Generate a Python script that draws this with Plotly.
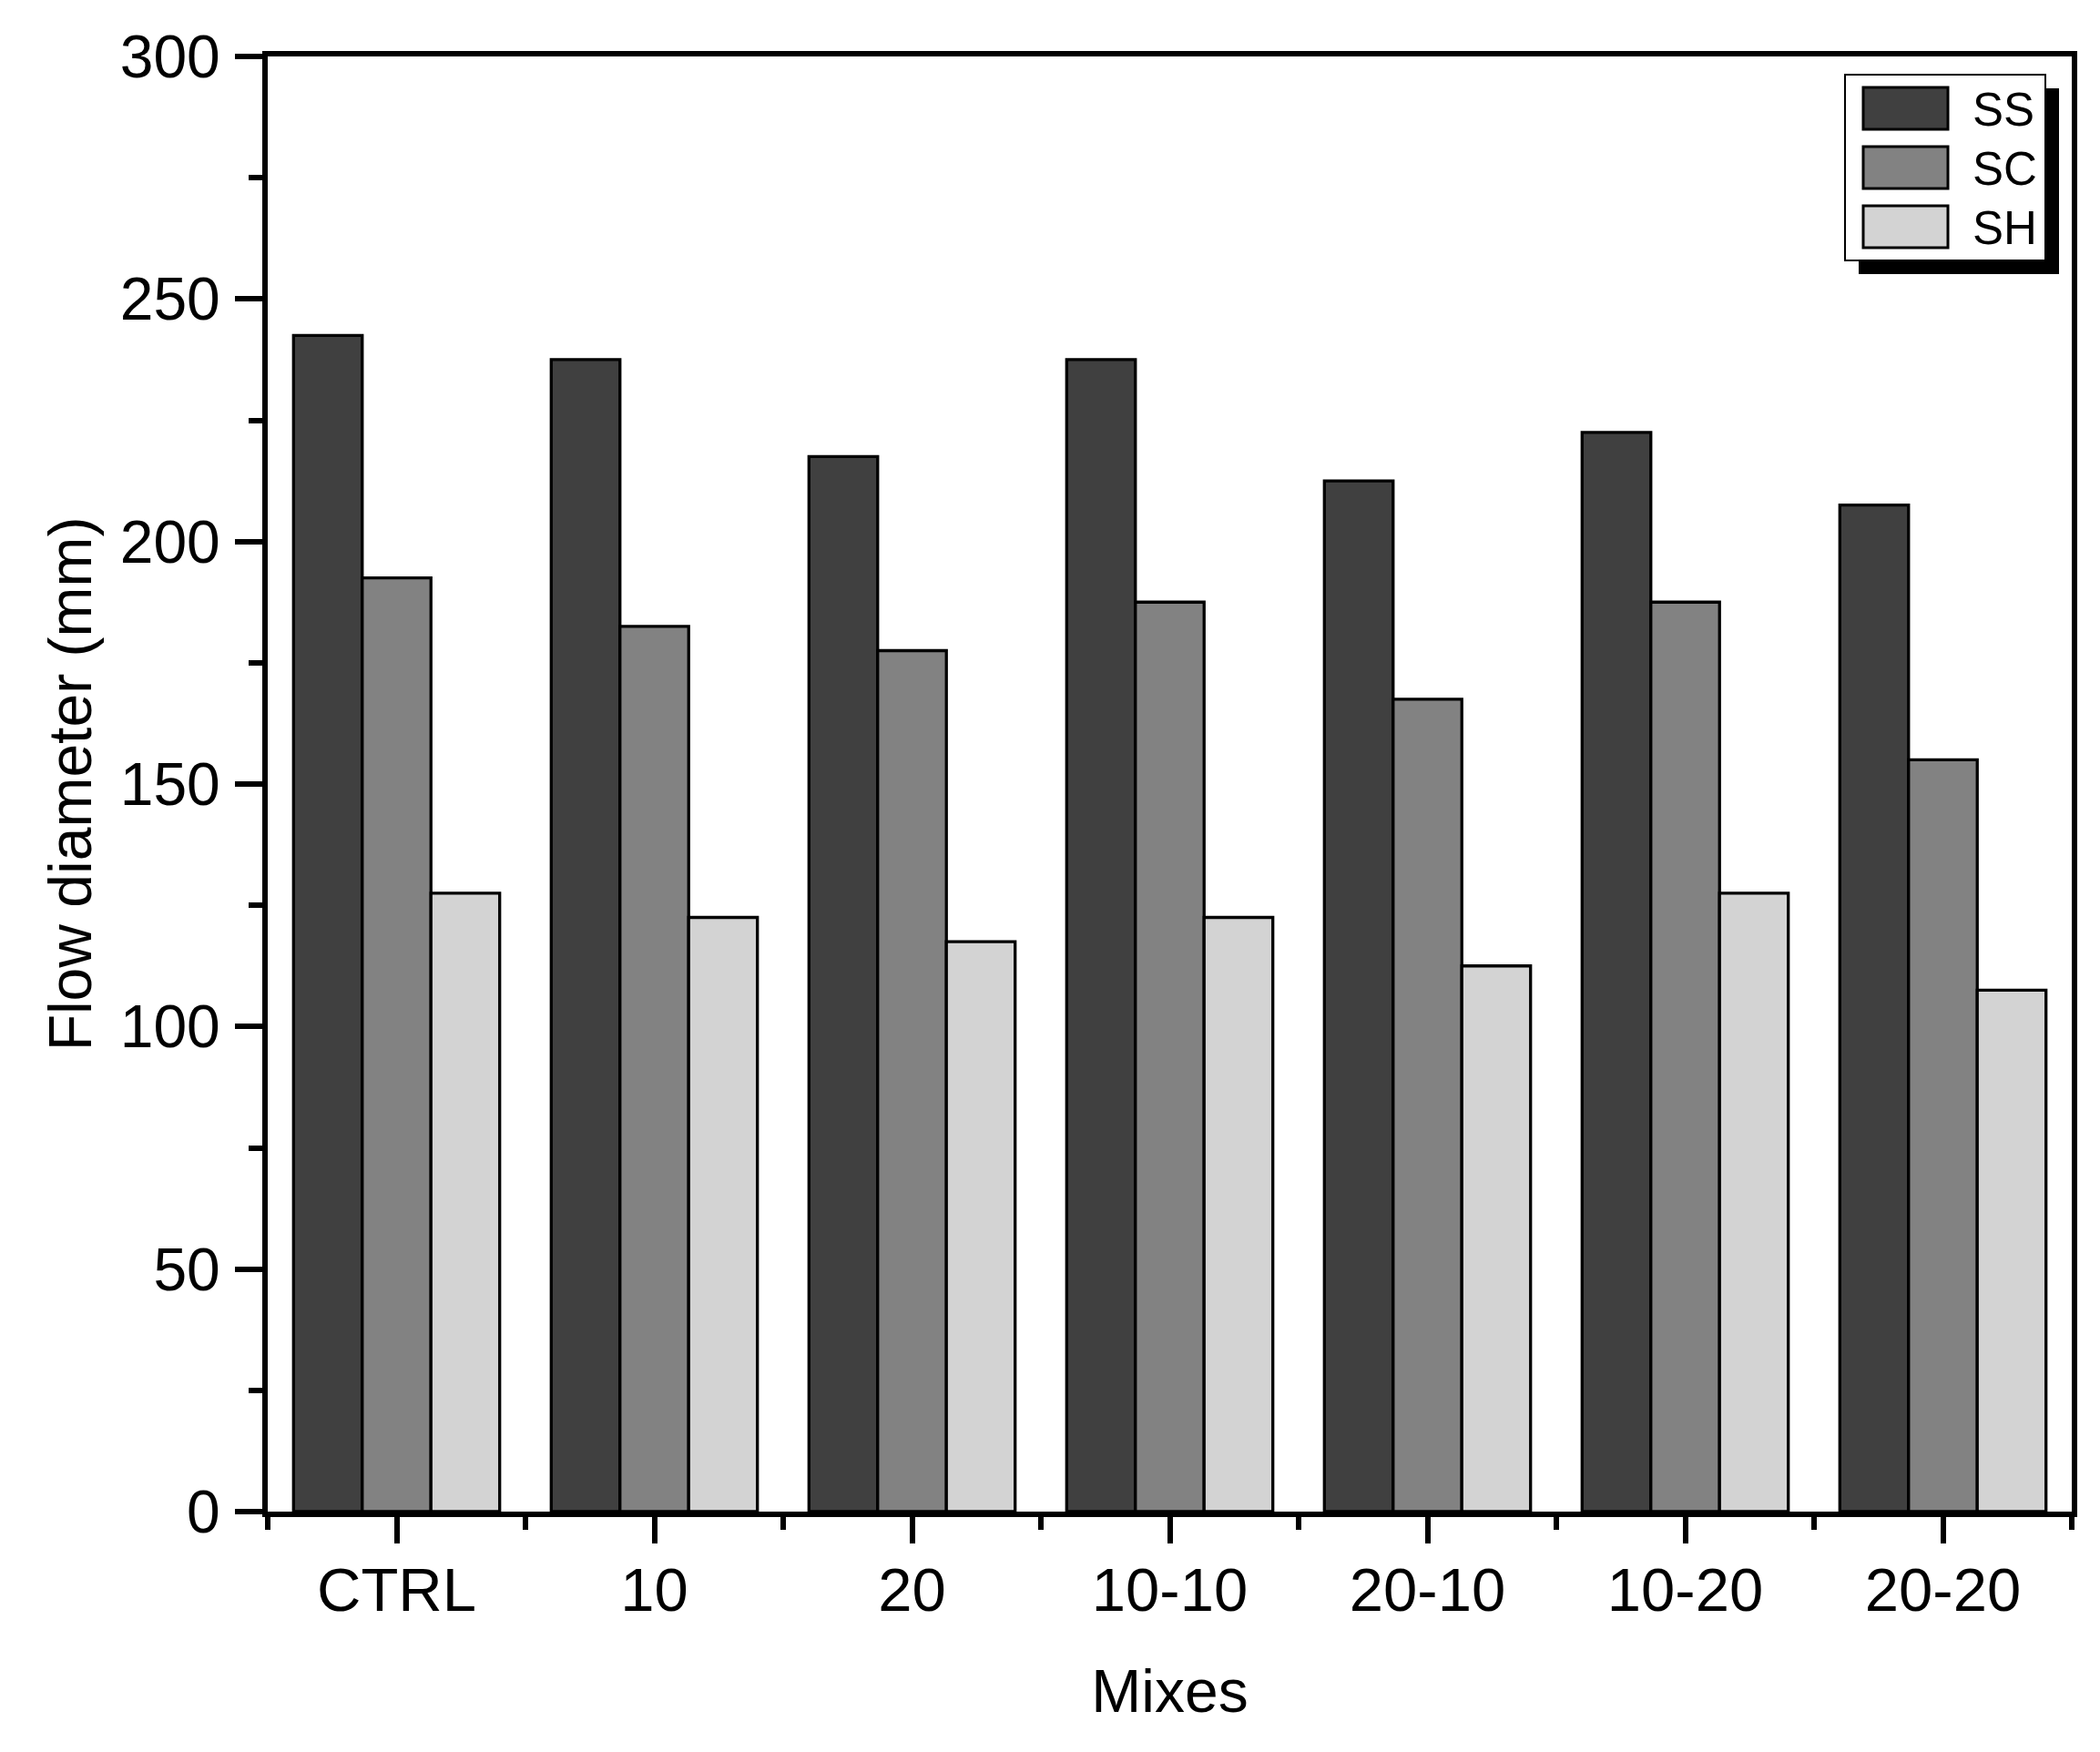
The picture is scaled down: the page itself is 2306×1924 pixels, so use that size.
import plotly.graph_objects as go

mixes = ["CTRL", "10", "20", "10-10", "20-10", "10-20", "20-20"]
series_names = ["SS", "SC", "SH"]
ss_values = [242.5, 237.5, 217.5, 237.5, 212.5, 222.5, 207.5]
sc_values = [192.5, 182.5, 177.5, 187.5, 167.5, 187.5, 155.0]
sh_values = [127.5, 122.5, 117.5, 122.5, 112.5, 127.5, 107.5]
colors = ["#404040", "#828282", "#d3d3d3"]
y_ticks = [0, 50, 100, 150, 200, 250, 300]

FONT = "Liberation Sans, Arial, sans-serif"
W, H = 2306, 1924
OFF = 8  # page body margin
# desired plot area in page pixels
PL, PR, PT, PB = 294, 2275, 62, 1660
L, R, T, B = PL - OFF, W + OFF - PR, PT - OFF, H + OFF - PB

xpos = list(range(len(mixes)))
fig = go.Figure()
for name, vals, col in zip(series_names, [ss_values, sc_values, sh_values], colors):
    fig.add_trace(go.Bar(
        x=xpos, y=vals, name=name,
        marker=dict(color=col, line=dict(color="black", width=3.3)),
        showlegend=False,
    ))

fig.update_layout(
    width=W, height=H,
    margin=dict(l=L, r=R, t=T, b=B),
    paper_bgcolor="white", plot_bgcolor="white",
    barmode="group", bargap=0.2, bargroupgap=0,
    font=dict(family=FONT, size=66, color="black"),
)

fig.update_xaxes(
    range=[-0.5, len(mixes) - 0.5],
    tickmode="array", tickvals=xpos, ticktext=mixes,
    ticks="outside", ticklen=29, tickwidth=6, tickcolor="black",
    minor=dict(ticks="outside", tick0=-0.5, dtick=1, ticklen=14, tickwidth=6, tickcolor="black"),
    showline=True, linewidth=6, linecolor="black", mirror=True,
    showgrid=False, zeroline=False,
    tickfont=dict(size=67),
    ticklabelstandoff=-6,
    title=dict(text="Mixes", font=dict(size=66), standoff=53),
)
fig.update_yaxes(
    range=[0, 300],
    tickmode="array", tickvals=y_ticks,
    ticks="outside", ticklen=30, tickwidth=6, tickcolor="black",
    minor=dict(ticks="outside", dtick=25, tick0=0, ticklen=15, tickwidth=6, tickcolor="black"),
    showline=True, linewidth=6, linecolor="black", mirror=True,
    showgrid=False, zeroline=False,
    tickfont=dict(size=66),
    ticklabelstandoff=3,
    title=dict(text="Flow diameter (mm)", font=dict(size=66), standoff=12),
)

# Manual legend (box with drop shadow, large swatches), positioned in page pixels
pw, ph = PR - PL, PB - PT
def px(x):
    return (x - PL) / pw
def py(y):
    return (PB - y) / ph

shapes = []
shapes.append(dict(type="rect", xref="paper", yref="paper", layer="above",
                   x0=px(2041), x1=px(2261), y0=py(301), y1=py(97),
                   fillcolor="black", line=dict(color="black", width=0)))
shapes.append(dict(type="rect", xref="paper", yref="paper", layer="above",
                   x0=px(2026), x1=px(2246), y0=py(286), y1=py(82),
                   fillcolor="white", line=dict(color="black", width=2)))
annotations = []
for i, (name, col) in enumerate(zip(series_names, colors)):
    top = 96 + i * 65
    shapes.append(dict(type="rect", xref="paper", yref="paper", layer="above",
                       x0=px(2046), x1=px(2139), y0=py(top + 46), y1=py(top),
                       fillcolor=col, line=dict(color="black", width=3)))
    annotations.append(dict(xref="paper", yref="paper", x=px(2164), y=py(top + 24),
                            xanchor="left", yanchor="middle", showarrow=False,
                            text=name, font=dict(size=51, family=FONT, color="black")))
fig.update_layout(shapes=shapes, annotations=annotations)

fig.write_html("out.html")
